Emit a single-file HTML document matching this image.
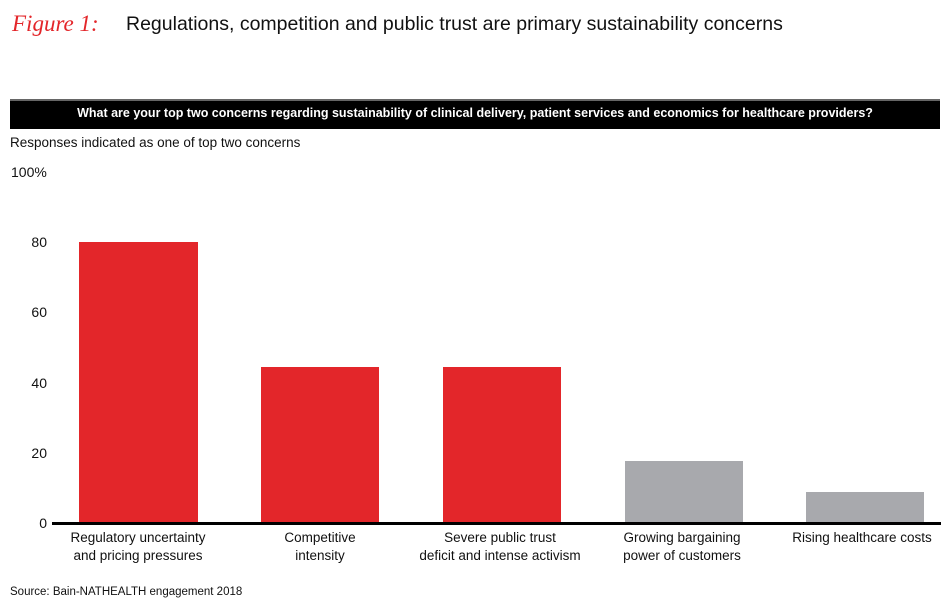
<!DOCTYPE html>
<html><head><style>
body{margin:0;width:950px;height:609px;background:#fff;position:relative;font-family:"Liberation Sans",sans-serif;color:#111;overflow:hidden}
.a{position:absolute;white-space:nowrap}
.bar{position:absolute}
.t{position:absolute;width:40px;text-align:right;font-size:14px;left:7px}
.xl{position:absolute;text-align:center;font-size:13.5px;line-height:18px;width:180px}
</style></head><body>
<div class="a" style="left:12px;top:11px;font-size:23px;color:#e3262a;font-family:'Liberation Serif',serif;font-style:italic">Figure 1:</div>
<div class="a" style="left:126px;top:13px;font-size:19.5px">Regulations, competition and public trust are primary sustainability concerns</div>
<div class="a" style="left:10px;top:99px;width:930px;height:30px;background:#000;border-top:2px solid #666;box-sizing:border-box"></div>
<div class="a" style="left:10px;top:106px;width:930px;text-align:center;color:#fff;font-weight:bold;font-size:12.5px">What are your top two concerns regarding sustainability of clinical delivery, patient services and economics for healthcare providers?</div>
<div class="a" style="left:10px;top:135px;font-size:13.5px">Responses indicated as one of top two concerns</div>
<div class="a" style="left:11px;top:164px;font-size:14px">100%</div>
<div class="t" style="top:234px">80</div>
<div class="t" style="top:304px">60</div>
<div class="t" style="top:375px">40</div>
<div class="t" style="top:445px">20</div>
<div class="t" style="top:515px">0</div>
<div class="bar" style="left:79px;width:119px;top:242px;height:281px;background:#e3262a"></div>
<div class="bar" style="left:261px;width:118px;top:367px;height:156px;background:#e3262a"></div>
<div class="bar" style="left:443px;width:118px;top:367px;height:156px;background:#e3262a"></div>
<div class="bar" style="left:625px;width:118px;top:461px;height:62px;background:#a8a9ad"></div>
<div class="bar" style="left:806px;width:118px;top:492px;height:31px;background:#a8a9ad"></div>
<div class="bar" style="left:52px;width:889px;top:522px;height:3px;background:#000"></div>
<div class="xl" style="left:48px;top:529px">Regulatory uncertainty<br>and pricing pressures</div>
<div class="xl" style="left:230px;top:529px">Competitive<br>intensity</div>
<div class="xl" style="left:410px;top:529px">Severe public trust<br>deficit and intense activism</div>
<div class="xl" style="left:592px;top:529px">Growing bargaining<br>power of customers</div>
<div class="xl" style="left:772px;top:529px">Rising healthcare costs</div>
<div class="a" style="left:10px;top:586px;font-size:11.5px">Source: Bain-NATHEALTH engagement 2018</div>
</body></html>
